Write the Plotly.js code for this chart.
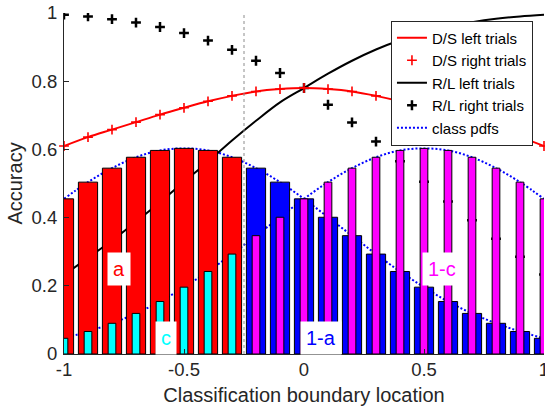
<!DOCTYPE html>
<html>
<head>
<meta charset="utf-8">
<script src="https://cdn.plot.ly/plotly-3.0.1.min.js"></script>
<style>html,body{margin:0;padding:0;background:#fff;}#chart{width:545px;height:415px;}</style>
</head>
<body>
<div id="chart"></div>
<script>
// ---- data ----
const xs = [-1,-0.9,-0.8,-0.7,-0.6,-0.5,-0.4,-0.3,-0.2,-0.1,0,0.1,0.2,0.3,0.4,0.5,0.6,0.7,0.8,0.9,1];

const dsLeft  = [0.610,0.636,0.658,0.680,0.702,0.722,0.741,0.757,0.770,0.777,0.780,0.777,0.770,0.757,0.741,0.722,0.702,0.680,0.658,0.636,0.610];
const dsRight = [0.610,0.636,0.658,0.680,0.702,0.722,0.741,0.757,0.770,0.777,0.780,0.777,0.770,0.757,0.741,0.722,0.702,0.680,0.658,0.636,0.610];
const rlLeft  = [0.232,0.282,0.333,0.388,0.445,0.505,0.564,0.626,0.684,0.738,0.780,0.822,0.860,0.893,0.920,0.942,0.960,0.973,0.983,0.990,0.995];
const rlRight = [0.995,0.990,0.982,0.972,0.959,0.941,0.919,0.892,0.860,0.824,0.780,0.731,0.679,0.623,0.565,0.505,0.447,0.392,0.338,0.285,0.233];
const pdfLeft  = [0.455,0.504,0.545,0.577,0.597,0.603,0.597,0.577,0.545,0.504,0.455,0.401,0.347,0.293,0.242,0.196,0.154,0.119,0.090,0.066,0.046];
const pdfRight = [0.046,0.066,0.090,0.119,0.154,0.196,0.242,0.293,0.347,0.401,0.455,0.504,0.545,0.577,0.597,0.603,0.597,0.577,0.545,0.504,0.455];

const leftBarX  = [-1,-0.9,-0.8,-0.7,-0.6,-0.5,-0.4,-0.3];
const aVals     = [0.455,0.504,0.545,0.577,0.597,0.603,0.597,0.577];
const cVals     = [0.046,0.066,0.090,0.119,0.154,0.196,0.242,0.293];
const rightBarX = [-0.2,-0.1,0,0.1,0.2,0.3,0.4,0.5,0.6,0.7,0.8,0.9,1];
const oneMinusA = [0.545,0.504,0.455,0.401,0.347,0.293,0.242,0.196,0.154,0.119,0.090,0.066,0.046];
const oneMinusC = [0.347,0.401,0.455,0.504,0.545,0.577,0.597,0.603,0.597,0.577,0.545,0.504,0.455];

const boundaryX = -0.25;
const xTickVals = [-1,-0.5,0,0.5,1];
const xTickText = ['-1','-0.5','0','0.5','1'];
const yTickVals = [0,0.2,0.4,0.6,0.8,1];
const yTickText = ['0','0.2','0.4','0.6','0.8','1'];

// ---- styles ----
const FONT = 'Liberation Sans, Arial, sans-serif';
const AX = '#262626';
const WIDE = 0.08, NARROW = 0.032;

const traces = [
  // lines (base subplot, drawn beneath bars)
  {type:'scatter', mode:'lines', x:xs, y:pdfLeft, name:'class pdfs', legendrank:5,
   line:{color:'#0000ff', width:2, dash:'2px,2px', shape:'spline'}, hoverinfo:'skip'},
  {type:'scatter', mode:'lines', x:xs, y:pdfRight, name:'class pdfs', showlegend:false,
   line:{color:'#0000ff', width:2, dash:'2px,2px', shape:'spline'}, hoverinfo:'skip'},
  {type:'scatter', mode:'lines', x:xs, y:rlLeft, name:'R/L left trials', legendrank:3,
   line:{color:'#000000', width:2, shape:'spline'}, hoverinfo:'skip'},
  {type:'scatter', mode:'markers', x:xs, y:rlRight, name:'R/L right trials', legendrank:4,
   marker:{symbol:'cross-thin', size:7, color:'#000000', line:{color:'#000000', width:2.5}}, hoverinfo:'skip'},
  {type:'scatter', mode:'lines', x:xs, y:dsLeft, name:'D/S left trials', legendrank:1, cliponaxis:false,
   line:{color:'#ff0000', width:2, shape:'spline'}, hoverinfo:'skip'},
  {type:'scatter', mode:'markers', x:xs, y:dsRight, name:'D/S right trials', legendrank:2, cliponaxis:false,
   marker:{symbol:'cross-thin', size:7, color:'#ff0000', line:{color:'#ff0000', width:1.6}}, hoverinfo:'skip'},
  // bars (overlay subplot, drawn above lines)
  {type:'bar', x:leftBarX, y:aVals, width:WIDE, xaxis:'x2', yaxis:'y2', showlegend:false, hoverinfo:'skip',
   marker:{color:'#ff0000', line:{color:'#000000', width:1}}},
  {type:'bar', x:leftBarX, y:cVals, width:NARROW, xaxis:'x2', yaxis:'y2', showlegend:false, hoverinfo:'skip',
   marker:{color:'#00ffff', line:{color:'#000000', width:1}}},
  {type:'bar', x:rightBarX, y:oneMinusA, width:WIDE, xaxis:'x2', yaxis:'y2', showlegend:false, hoverinfo:'skip',
   marker:{color:'#0000ff', line:{color:'#000000', width:1}}},
  {type:'bar', x:rightBarX, y:oneMinusC, width:NARROW, xaxis:'x2', yaxis:'y2', showlegend:false, hoverinfo:'skip',
   marker:{color:'#ff00ff', line:{color:'#000000', width:1}}}
];

function label(txt, x, y, color){
  return {text:txt, x:x, y:y, xref:'x', yref:'y', showarrow:false,
    font:{family:FONT, size:20, color:color}, bgcolor:'#ffffff', borderpad:5,
    xanchor:'center', yanchor:'middle'};
}

const layout = {
  width:545, height:415,
  margin:{l:64, r:1, t:13, b:61, pad:0},
  paper_bgcolor:'#ffffff', plot_bgcolor:'#ffffff',
  font:{family:FONT, color:AX},
  barmode:'overlay',
  showlegend:true,
  legend:{x:0.977, xanchor:'right', y:0.978, yanchor:'top', bgcolor:'#ffffff',
    bordercolor:'#262626', borderwidth:1, font:{family:FONT, size:15, color:'#000000'},
    tracegroupgap:0, itemwidth:30},
  xaxis:{range:[-1,1], tickvals:xTickVals, ticktext:xTickText, showgrid:false, zeroline:false,
    showline:true, linecolor:AX, linewidth:1, ticks:'inside', ticklen:5, tickcolor:AX,
    tickfont:{family:FONT, size:18.5, color:AX}, ticklabelstandoff:-1, ticklabeloverflow:'allow',
    title:{text:'Classification boundary location', font:{family:FONT, size:20, color:AX}, standoff:8}},
  yaxis:{range:[0,1], tickvals:yTickVals, ticktext:yTickText, showgrid:false, zeroline:false,
    showline:true, linecolor:AX, linewidth:1, ticks:'inside', ticklen:5, tickcolor:AX,
    tickfont:{family:FONT, size:18.5, color:AX}, ticklabelstandoff:2, ticklabeloverflow:'allow',
    title:{text:'Accuracy', font:{family:FONT, size:20, color:AX}, standoff:3}},
  xaxis2:{range:[-1,1], overlaying:'x', anchor:'y2', visible:false},
  yaxis2:{range:[0,1], overlaying:'y', anchor:'x2', visible:false},
  shapes:[{type:'line', xref:'x', yref:'y', x0:boundaryX, x1:boundaryX, y0:0, y1:1.005,
    line:{color:'#8c8c8c', width:1, dash:'dot'}, layer:'above'}],
  annotations:[
    label('a', -0.772, 0.249, '#ff0000'),
    label('c', -0.576, 0.048, '#00ffff'),
    label('1-a', 0.071, 0.048, '#0000ff'),
    label('1-c', 0.574, 0.249, '#ff00ff')
  ]
};

Plotly.newPlot('chart', traces, layout, {staticPlot:true, displayModeBar:false});
</script>
</body>
</html>
